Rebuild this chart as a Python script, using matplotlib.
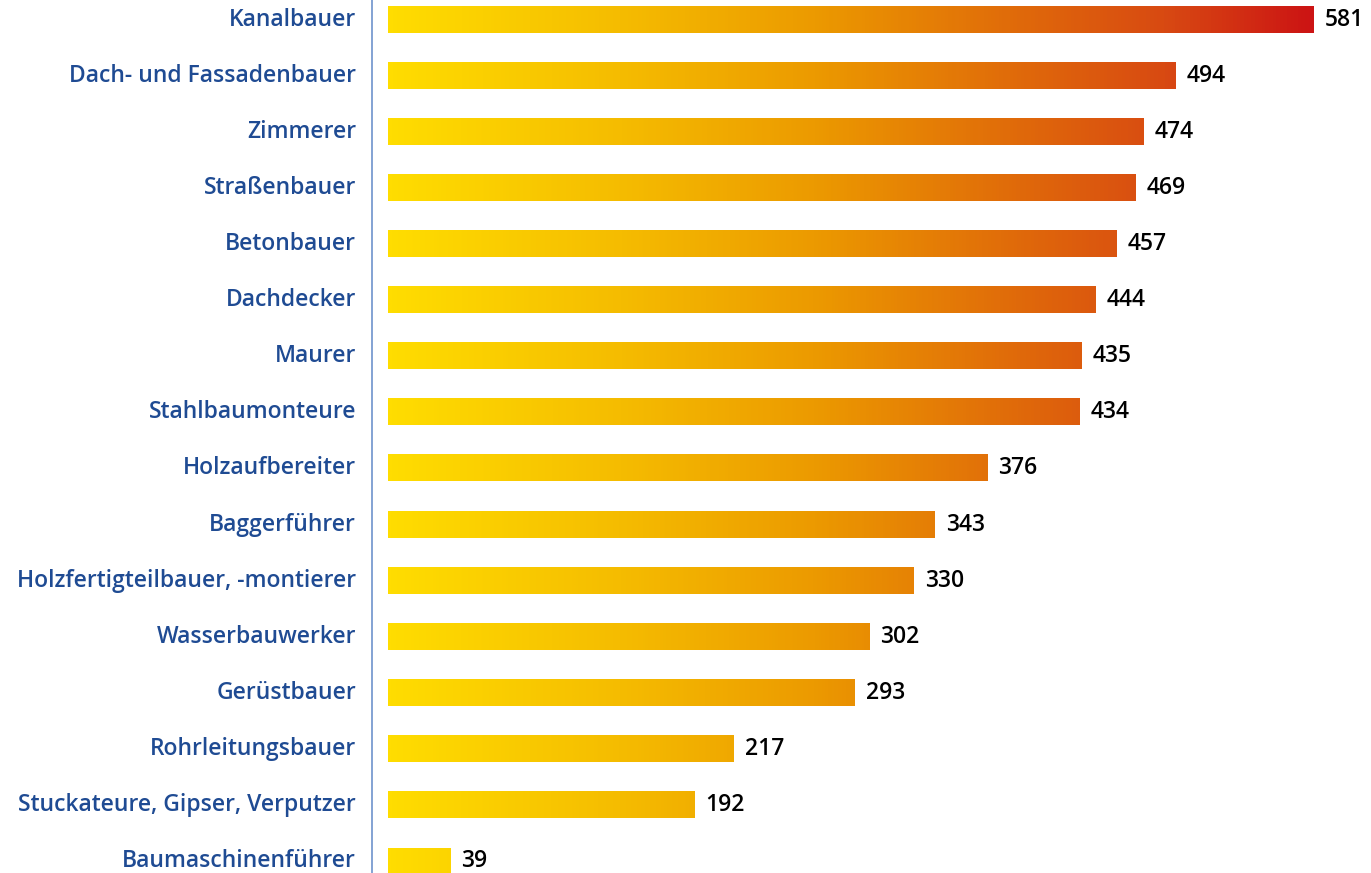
import matplotlib.pyplot as plt
from matplotlib.colors import LinearSegmentedColormap
import numpy as np

# Berufe im Bauhauptgewerbe (top -> bottom)
berufe = [
    "Kanalbauer", "Dach- und Fassadenbauer", "Zimmerer", "Straßenbauer",
    "Betonbauer", "Dachdecker", "Maurer", "Stahlbaumonteure",
    "Holzaufbereiter", "Baggerführer", "Holzfertigteilbauer, -montierer",
    "Wasserbauwerker", "Gerüstbauer", "Rohrleitungsbauer",
    "Stuckateure, Gipser, Verputzer", "Baumaschinenführer",
]
werte = [581, 494, 474, 469, 457, 444, 435, 434, 376, 343, 330, 302, 293, 217, 192, 39]

label_blue = "#1f4b93"
cmap = LinearSegmentedColormap.from_list(
    "gelbrot",
    [(0.0, "#ffdd00"), (0.25, "#f5bc00"), (0.46, "#ec9a00"),
     (0.68, "#e06a0a"), (0.84, "#d84a12"), (1.0, "#cc1414")])

fig = plt.figure(figsize=(13.71, 8.73), dpi=100)
ax = fig.add_axes([388 / 1371, 0, 1 - 388 / 1371, 1])

vmax = max(werte)
bar_h = 0.465
for i, (name, v) in enumerate(zip(berufe, werte)):
    grad = np.linspace(0, v, 256).reshape(1, -1)
    ax.imshow(grad, cmap=cmap, vmin=0, vmax=vmax, aspect="auto",
              extent=[0, v, i + bar_h / 2, i - bar_h / 2], interpolation="bilinear")
    ax.text(v + 7, i, str(v), va="center", ha="left", fontsize=16.5,
            fontweight="semibold", family="Open Sans", color="black")
    ax.text(-20, i, name, va="center", ha="right", fontsize=16.5,
            fontweight="semibold", family="Open Sans", color=label_blue,
            clip_on=False)

ax.set_xlim(0, (1371 - 388) / ((1314 - 388) / 581))
ax.set_ylim(15.21, -0.348)
ax.axvline(-10, color="#7a9bd0", lw=1.3, clip_on=False)
ax.axis("off")

fig.savefig("out.png", dpi=100)
